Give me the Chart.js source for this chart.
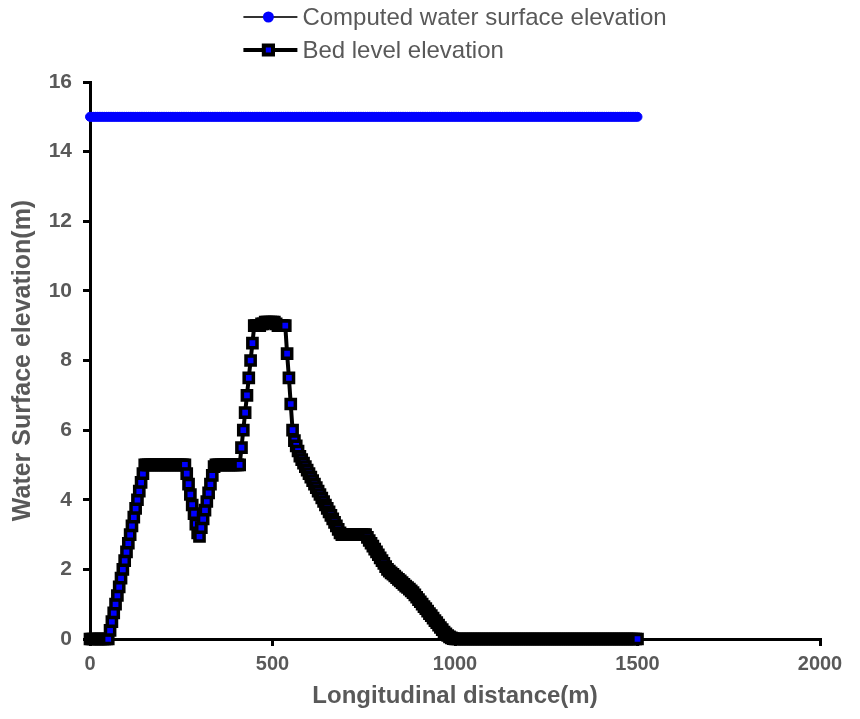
<!DOCTYPE html>
<html>
<head>
<meta charset="utf-8">
<title>Water surface profile</title>
<script src="https://cdn.jsdelivr.net/npm/chart.js@4.4.1/dist/chart.umd.min.js"></script>
<style>
  html, body { margin: 0; padding: 0; background: #fff; }
  #profileChart { display: block; }
</style>
</head>
<body>
<canvas id="profileChart" width="860" height="719"></canvas>
<script>
// stations along the reach (m), every 5 m
const distance = [
  0, 5, 10, 15, 20, 25, 30, 35, 40, 45, 50, 55, 60, 65, 70, 75, 80, 85, 90, 95,
  100, 105, 110, 115, 120, 125, 130, 135, 140, 145, 150, 155, 160, 165, 170, 175, 180, 185, 190, 195,
  200, 205, 210, 215, 220, 225, 230, 235, 240, 245, 250, 255, 260, 265, 270, 275, 280, 285, 290, 295,
  300, 305, 310, 315, 320, 325, 330, 335, 340, 345, 350, 355, 360, 365, 370, 375, 380, 385, 390, 395,
  400, 405, 410, 415, 420, 425, 430, 435, 440, 445, 450, 455, 460, 465, 470, 475, 480, 485, 490, 495,
  500, 505, 510, 515, 520, 525, 530, 535, 540, 545, 550, 555, 560, 565, 570, 575, 580, 585, 590, 595,
  600, 605, 610, 615, 620, 625, 630, 635, 640, 645, 650, 655, 660, 665, 670, 675, 680, 685, 690, 695,
  700, 705, 710, 715, 720, 725, 730, 735, 740, 745, 750, 755, 760, 765, 770, 775, 780, 785, 790, 795,
  800, 805, 810, 815, 820, 825, 830, 835, 840, 845, 850, 855, 860, 865, 870, 875, 880, 885, 890, 895,
  900, 905, 910, 915, 920, 925, 930, 935, 940, 945, 950, 955, 960, 965, 970, 975, 980, 985, 990, 995,
  1000, 1005, 1010, 1015, 1020, 1025, 1030, 1035, 1040, 1045, 1050, 1055, 1060, 1065, 1070, 1075, 1080, 1085, 1090, 1095,
  1100, 1105, 1110, 1115, 1120, 1125, 1130, 1135, 1140, 1145, 1150, 1155, 1160, 1165, 1170, 1175, 1180, 1185, 1190, 1195,
  1200, 1205, 1210, 1215, 1220, 1225, 1230, 1235, 1240, 1245, 1250, 1255, 1260, 1265, 1270, 1275, 1280, 1285, 1290, 1295,
  1300, 1305, 1310, 1315, 1320, 1325, 1330, 1335, 1340, 1345, 1350, 1355, 1360, 1365, 1370, 1375, 1380, 1385, 1390, 1395,
  1400, 1405, 1410, 1415, 1420, 1425, 1430, 1435, 1440, 1445, 1450, 1455, 1460, 1465, 1470, 1475, 1480, 1485, 1490, 1495,
  1500
];

// computed water surface elevation (m)
const waterSurface = [
  15, 15, 15, 15, 15, 15, 15, 15, 15, 15, 15, 15, 15, 15, 15, 15, 15, 15, 15, 15,
  15, 15, 15, 15, 15, 15, 15, 15, 15, 15, 15, 15, 15, 15, 15, 15, 15, 15, 15, 15,
  15, 15, 15, 15, 15, 15, 15, 15, 15, 15, 15, 15, 15, 15, 15, 15, 15, 15, 15, 15,
  15, 15, 15, 15, 15, 15, 15, 15, 15, 15, 15, 15, 15, 15, 15, 15, 15, 15, 15, 15,
  15, 15, 15, 15, 15, 15, 15, 15, 15, 15, 15, 15, 15, 15, 15, 15, 15, 15, 15, 15,
  15, 15, 15, 15, 15, 15, 15, 15, 15, 15, 15, 15, 15, 15, 15, 15, 15, 15, 15, 15,
  15, 15, 15, 15, 15, 15, 15, 15, 15, 15, 15, 15, 15, 15, 15, 15, 15, 15, 15, 15,
  15, 15, 15, 15, 15, 15, 15, 15, 15, 15, 15, 15, 15, 15, 15, 15, 15, 15, 15, 15,
  15, 15, 15, 15, 15, 15, 15, 15, 15, 15, 15, 15, 15, 15, 15, 15, 15, 15, 15, 15,
  15, 15, 15, 15, 15, 15, 15, 15, 15, 15, 15, 15, 15, 15, 15, 15, 15, 15, 15, 15,
  15, 15, 15, 15, 15, 15, 15, 15, 15, 15, 15, 15, 15, 15, 15, 15, 15, 15, 15, 15,
  15, 15, 15, 15, 15, 15, 15, 15, 15, 15, 15, 15, 15, 15, 15, 15, 15, 15, 15, 15,
  15, 15, 15, 15, 15, 15, 15, 15, 15, 15, 15, 15, 15, 15, 15, 15, 15, 15, 15, 15,
  15, 15, 15, 15, 15, 15, 15, 15, 15, 15, 15, 15, 15, 15, 15, 15, 15, 15, 15, 15,
  15, 15, 15, 15, 15, 15, 15, 15, 15, 15, 15, 15, 15, 15, 15, 15, 15, 15, 15, 15,
  15
];

// bed level elevation (m)
const bedLevel = [
  0, 0, 0, 0, 0, 0, 0, 0, 0, 0, 0, 0.25, 0.5, 0.75, 1.0, 1.25, 1.5, 1.75, 2.0, 2.25,
  2.5, 2.75, 3.0, 3.25, 3.5, 3.75, 4.0, 4.25, 4.5, 4.75, 5, 5, 5, 5, 5, 5, 5, 5, 5, 5,
  5, 5, 5, 5, 5, 5, 5, 5, 5, 5, 5, 5, 5, 4.75, 4.45, 4.15, 3.85, 3.6, 3.3, 3.05,
  2.95, 3.2, 3.45, 3.7, 3.95, 4.2, 4.45, 4.7, 4.95, 5, 5, 5, 5, 5, 5, 5, 5, 5, 5, 5,
  5, 5, 5, 5.5, 6, 6.5, 7, 7.5, 8, 8.5, 9, 9, 9, 9, 9.05, 9.05, 9.1, 9.1, 9.1, 9.1,
  9.1, 9.1, 9.05, 9, 9, 9, 9, 9, 8.2, 7.5, 6.75, 6.0, 5.7, 5.55, 5.4, 5.25, 5.15, 5.05, 4.95, 4.85,
  4.75, 4.65, 4.55, 4.45, 4.35, 4.25, 4.15, 4.05, 3.95, 3.85, 3.75, 3.65, 3.55, 3.45, 3.35, 3.25, 3.15, 3.05, 3, 3,
  3, 3, 3, 3, 3, 3, 3, 3, 3, 3, 3, 3, 2.92, 2.83, 2.75, 2.67, 2.58, 2.5, 2.42, 2.33,
  2.25, 2.17, 2.08, 2.0, 1.95, 1.9, 1.86, 1.81, 1.76, 1.71, 1.67, 1.62, 1.57, 1.52, 1.48, 1.43, 1.38, 1.33, 1.27, 1.2,
  1.13, 1.07, 1.0, 0.93, 0.87, 0.8, 0.73, 0.67, 0.6, 0.53, 0.47, 0.4, 0.33, 0.27, 0.2, 0.15, 0.1, 0.06, 0.03, 0.01,
  0, 0, 0, 0, 0, 0, 0, 0, 0, 0, 0, 0, 0, 0, 0, 0, 0, 0, 0, 0,
  0, 0, 0, 0, 0, 0, 0, 0, 0, 0, 0, 0, 0, 0, 0, 0, 0, 0, 0, 0,
  0, 0, 0, 0, 0, 0, 0, 0, 0, 0, 0, 0, 0, 0, 0, 0, 0, 0, 0, 0,
  0, 0, 0, 0, 0, 0, 0, 0, 0, 0, 0, 0, 0, 0, 0, 0, 0, 0, 0, 0,
  0, 0, 0, 0, 0, 0, 0, 0, 0, 0, 0, 0, 0, 0, 0, 0, 0, 0, 0, 0,
  0
];

const seriesLabels = ['Computed water surface elevation', 'Bed level elevation'];
const xTitle = 'Longitudinal distance(m)';
const yTitle = 'Water Surface elevation(m)';

const FONT = '"Liberation Sans", Arial, sans-serif';
const GREY = '#595959';

// legend stacked in two rows above the plot, centred on the chart area
const stackedLegend = {
  id: 'stackedLegend',
  afterDraw(chart) {
    const { ctx, chartArea } = chart;
    const sets = chart.data.datasets;
    ctx.save();
    ctx.font = '24px ' + FONT;
    const textW = Math.max(...sets.map(ds => ctx.measureText(ds.label).width));
    const symW = 54, gap = 5;
    const left = (chartArea.left + chartArea.right) / 2 - (symW + gap + textW) / 2;
    sets.forEach((ds, i) => {
      const y = 17 + i * 33;
      ctx.strokeStyle = ds.legendLine;
      ctx.lineWidth = ds.legendLineWidth;
      ctx.beginPath();
      ctx.moveTo(left, y);
      ctx.lineTo(left + symW, y);
      ctx.stroke();
      ctx.fillStyle = ds.pointBackgroundColor;
      ctx.strokeStyle = ds.pointBorderColor;
      Chart.helpers.drawPoint(ctx, {
        pointStyle: ds.pointStyle,
        radius: ds.pointRadius,
        borderWidth: ds.pointBorderWidth,
        rotation: 0
      }, left + symW / 2 - 2, y);
      ctx.fillStyle = GREY;
      ctx.textBaseline = 'middle';
      ctx.textAlign = 'left';
      ctx.fillText(ds.label, left + symW + gap, y + 1);
    });
    ctx.restore();
  }
};

// plain numbers on the distance axis, no thousands separator
const plainTick = value => String(value);

new Chart(document.getElementById('profileChart'), {
  type: 'line',
  data: {
    datasets: [{
      label: seriesLabels[0],
      data: distance.map((d, i) => ({ x: d, y: waterSurface[i] })),
      borderColor: '#1a1a1a',
      borderWidth: 1.5,
      pointStyle: 'circle',
      pointRadius: 4.5,
      pointBackgroundColor: '#0000ff',
      pointBorderColor: '#0000ff',
      pointBorderWidth: 1,
      legendLine: '#333333',
      legendLineWidth: 2,
      clip: false
    }, {
      label: seriesLabels[1],
      data: distance.map((d, i) => ({ x: d, y: bedLevel[i] })),
      borderColor: '#000000',
      borderWidth: 4,
      pointStyle: 'rect',
      pointRadius: 6.5,
      pointBackgroundColor: '#0000ff',
      pointBorderColor: '#000000',
      pointBorderWidth: 3.5,
      legendLine: '#000000',
      legendLineWidth: 4,
      clip: false
    }]
  },
  options: {
    responsive: false,
    animation: false,
    devicePixelRatio: 1,
    layout: { padding: { top: 82, right: 40, bottom: 8, left: 8 } },
    plugins: {
      legend: { display: false },
      tooltip: { enabled: false }
    },
    scales: {
      x: {
        type: 'linear',
        min: 0,
        max: 2000,
        ticks: {
          stepSize: 500,
          padding: 6,
          color: GREY,
          callback: plainTick,
          font: { family: FONT, size: 20, weight: 'bold' }
        },
        grid: {
          drawOnChartArea: false,
          drawTicks: true,
          tickLength: 7,
          color: '#000',
          lineWidth: 3
        },
        border: { display: true, color: '#000', width: 3 },
        title: {
          display: true,
          text: xTitle,
          color: GREY,
          font: { family: FONT, size: 24, weight: 'bold' },
          padding: { top: 4, bottom: 0 }
        },
        afterFit(scale) { scale.height = 72; }
      },
      y: {
        min: 0,
        max: 16,
        ticks: {
          stepSize: 2,
          padding: 11,
          color: GREY,
          font: { family: FONT, size: 21, weight: 'bold' }
        },
        grid: {
          drawOnChartArea: false,
          drawTicks: true,
          tickLength: 7,
          color: '#000',
          lineWidth: 3
        },
        border: { display: true, color: '#000', width: 3 },
        title: {
          display: true,
          text: yTitle,
          color: GREY,
          font: { family: FONT, size: 25, weight: 'bold' },
          padding: { top: 0, bottom: 6 }
        },
        afterFit(scale) { scale.width = 82; }
      }
    }
  },
  plugins: [stackedLegend]
});
</script>
</body>
</html>
